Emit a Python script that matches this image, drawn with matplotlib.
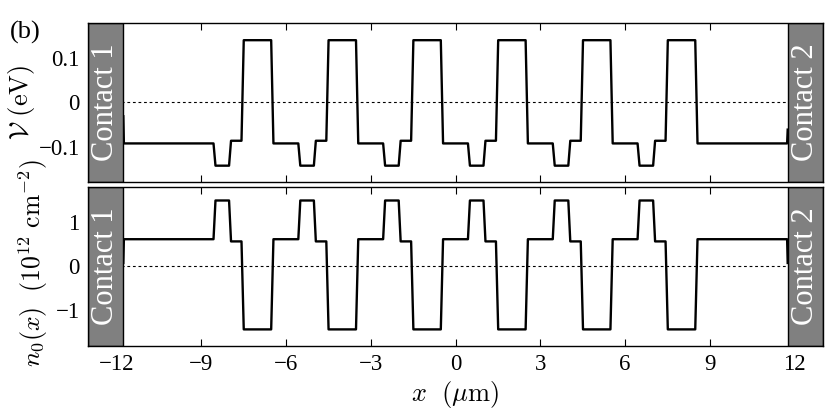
import numpy as np
import matplotlib
matplotlib.use('Agg')
import matplotlib.pyplot as plt
import matplotlib.ticker as ticker
from matplotlib.patches import Rectangle

plt.rcParams['font.family'] = 'serif'
plt.rcParams['font.serif'] = ['Liberation Serif', 'DejaVu Serif']
plt.rcParams['mathtext.fontset'] = 'cm'
plt.rcParams['axes.unicode_minus'] = True

# ---- data ----
x_limits = (-13, 13)
contact_edge = 11.75                      # contacts cover |x| > this (um)
barrier_centres = [-7, -4, -1, 2, 5, 8]   # um

# one period of the profile, x relative to barrier centre (um)
period_dx = [-1.56, -1.49, -1.01, -0.94, -0.57, -0.49, 0.48, 0.56]
V_period = [-0.092, -0.142, -0.142, -0.086, -0.086, 0.140, 0.140, -0.092]
n_period = [0.62, 1.50, 1.50, 0.57, 0.57, -1.43, -1.43, 0.62]

# values right at the contact edges (left, right)
V_contact = [-0.031, -0.061]
V_base = -0.092
n_contact = [0.08, 0.08]
n_base = 0.62

x_ticks = [-12, -9, -6, -3, 0, 3, 6, 9, 12]
V_ticks = [-0.1, 0, 0.1]
n_ticks = [-1, 0, 1]
V_limits = (-0.178, 0.178)
n_limits = (-1.8, 1.8)


def build_profile(levels, contact_vals, base):
    xs = [-contact_edge, -contact_edge + 0.02]
    ys = [contact_vals[0], base]
    for c in barrier_centres:
        for dx, lv in zip(period_dx, levels):
            xs.append(c + dx)
            ys.append(lv)
    xs += [contact_edge - 0.02, contact_edge]
    ys += [base, contact_vals[1]]
    return np.array(xs), np.array(ys)


xV, yV = build_profile(V_period, V_contact, V_base)
xn, yn = build_profile(n_period, n_contact, n_base)

fig = plt.figure(figsize=(8.3, 4.12), dpi=100)
ax1 = fig.add_axes([0.106, 0.559, 0.8856, 0.3845])
ax2 = fig.add_axes([0.106, 0.161, 0.8856, 0.3844])


def minus(fmt):
    return ticker.FuncFormatter(
        lambda v, p: '0' if abs(v) < 1e-9 else (fmt % v).replace('-', '\u2212'))


def style_axis(ax, ylim, yticks, label_x=True):
    ax.set_xlim(*x_limits)
    ax.set_ylim(*ylim)
    ax.axhline(0, color='black', lw=0.8, ls=(0, (2.5, 2.5)), zorder=1)
    width = x_limits[1] - contact_edge
    for x0 in (x_limits[0], contact_edge):
        ax.add_patch(Rectangle((x0, ylim[0]), width, ylim[1] - ylim[0],
                               facecolor='#808080', edgecolor='black',
                               lw=1.0, zorder=3))
    ax.set_xticks(x_ticks)
    ax.set_yticks(yticks)
    ax.tick_params(direction='in', top=True, right=True, length=5, width=0.8,
                   labelsize=16.5, pad=6)
    for s in ax.spines.values():
        s.set_linewidth(1.0)
        s.set_zorder(5)
    if not label_x:
        ax.tick_params(labelbottom=False)
    mid = (contact_edge + x_limits[1]) / 2
    ax.text(-mid, 0, 'Contact 1', rotation=90, color='white', fontsize=22,
            ha='center', va='center', zorder=4)
    ax.text(mid, 0, 'Contact 2', rotation=90, color='white', fontsize=22,
            ha='center', va='center', zorder=4)


style_axis(ax1, V_limits, V_ticks, label_x=False)
style_axis(ax2, n_limits, n_ticks)

ax1.plot(xV, yV, color='black', lw=1.7, solid_joinstyle='round', zorder=2)
ax2.plot(xn, yn, color='black', lw=1.7, solid_joinstyle='round', zorder=2)

ax1.yaxis.set_major_formatter(minus('%g'))
ax2.yaxis.set_major_formatter(minus('%d'))
ax2.xaxis.set_major_formatter(minus('%d'))

ax1.set_ylabel(r'$\mathcal{V}\ \mathrm{(eV)}$', fontsize=19)
ax1.yaxis.set_label_coords(-0.070, 0.50)
ax2.set_ylabel(r'$n_0(x)\ \ (10^{12}\ \mathrm{cm}^{-2})$', fontsize=18.5)
ax2.yaxis.set_label_coords(-0.052, 0.52)
ax2.set_xlabel(r'$x\ \ (\mu\mathrm{m})$', fontsize=19, labelpad=3)

fig.text(0.012, 0.922, '(b)', fontsize=19, ha='left', va='center')

fig.savefig('out.png', dpi=100)
